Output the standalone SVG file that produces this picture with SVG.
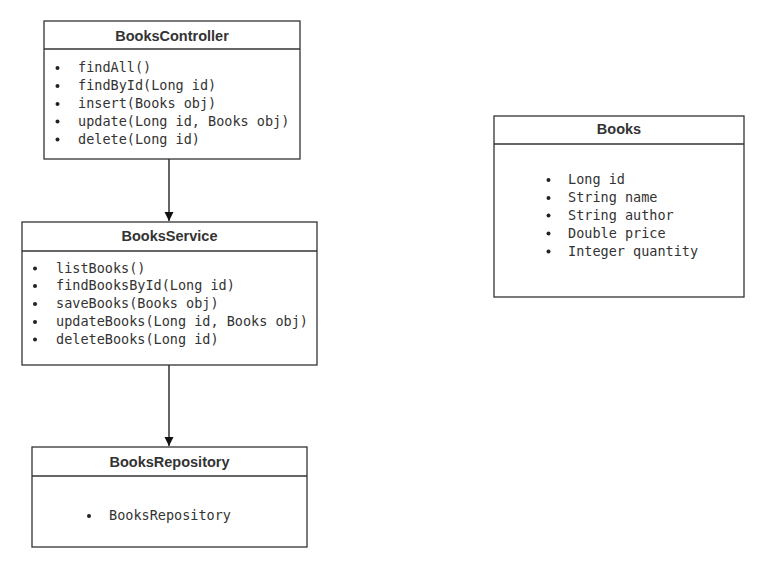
<svg xmlns="http://www.w3.org/2000/svg" width="763" height="567" viewBox="0 0 763 567">
<style>
.box{fill:#fff;stroke:#333;stroke-width:1.3}
.sep{stroke:#333;stroke-width:1.3}
.title{font-family:"Liberation Sans",Arial,sans-serif;font-size:14.5px;font-weight:bold;fill:#333;text-anchor:middle}
.m{font-family:"DejaVu Sans Mono","Liberation Mono",monospace;font-size:13.5px;fill:#333}
.b{fill:#222}
.edge{stroke:#111;stroke-width:1.3;fill:none}
</style>
<defs>
<marker id="arr" markerWidth="10" markerHeight="10" refX="9" refY="5" orient="auto" markerUnits="userSpaceOnUse">
<path d="M0,0.5 L9,5 L0,9.5 Z" fill="#111"/>
</marker>
</defs>
<rect width="763" height="567" fill="#fff"/>
<g id="connectors">
<line class="edge" x1="169" y1="159" x2="169" y2="221" marker-end="url(#arr)"/>
<line class="edge" x1="169" y1="365" x2="169" y2="446" marker-end="url(#arr)"/>
</g>
<g id="BooksController">
<rect class="box" x="44" y="21" width="256" height="138"/>
<line class="sep" x1="44" y1="49" x2="300" y2="49"/>
<text class="title" x="172" y="41">BooksController</text>
<circle class="b" cx="57.5" cy="68" r="2"/><text class="m" x="78" y="72">findAll()</text>
<circle class="b" cx="57.5" cy="86" r="2"/><text class="m" x="78" y="90">findById(Long id)</text>
<circle class="b" cx="57.5" cy="104" r="2"/><text class="m" x="78" y="108">insert(Books obj)</text>
<circle class="b" cx="57.5" cy="121.5" r="2"/><text class="m" x="78" y="125.5">update(Long id, Books obj)</text>
<circle class="b" cx="57.5" cy="139.5" r="2"/><text class="m" x="78" y="143.5">delete(Long id)</text>
</g>
<g id="BooksService">
<rect class="box" x="22" y="222" width="295" height="143"/>
<line class="sep" x1="22" y1="251" x2="317" y2="251"/>
<text class="title" x="169.5" y="241">BooksService</text>
<circle class="b" cx="35" cy="268.5" r="2"/><text class="m" x="56" y="272.5">listBooks()</text>
<circle class="b" cx="35" cy="286" r="2"/><text class="m" x="56" y="290">findBooksById(Long id)</text>
<circle class="b" cx="35" cy="304" r="2"/><text class="m" x="56" y="308">saveBooks(Books obj)</text>
<circle class="b" cx="35" cy="322" r="2"/><text class="m" x="56" y="326">updateBooks(Long id, Books obj)</text>
<circle class="b" cx="35" cy="339.5" r="2"/><text class="m" x="56" y="343.5">deleteBooks(Long id)</text>
</g>
<g id="BooksRepository">
<rect class="box" x="32" y="447" width="275" height="100"/>
<line class="sep" x1="32" y1="476" x2="307" y2="476"/>
<text class="title" x="169.5" y="466.5">BooksRepository</text>
<circle class="b" cx="89" cy="516" r="2"/><text class="m" x="109" y="520">BooksRepository</text>
</g>
<g id="Books">
<rect class="box" x="494" y="116" width="250" height="181"/>
<line class="sep" x1="494" y1="144" x2="744" y2="144"/>
<text class="title" x="619" y="134">Books</text>
<circle class="b" cx="548.5" cy="180" r="2"/><text class="m" x="568" y="184">Long id</text>
<circle class="b" cx="548.5" cy="198" r="2"/><text class="m" x="568" y="202">String name</text>
<circle class="b" cx="548.5" cy="215.5" r="2"/><text class="m" x="568" y="219.5">String author</text>
<circle class="b" cx="548.5" cy="233.5" r="2"/><text class="m" x="568" y="237.5">Double price</text>
<circle class="b" cx="548.5" cy="251.5" r="2"/><text class="m" x="568" y="255.5">Integer quantity</text>
</g>
</svg>
